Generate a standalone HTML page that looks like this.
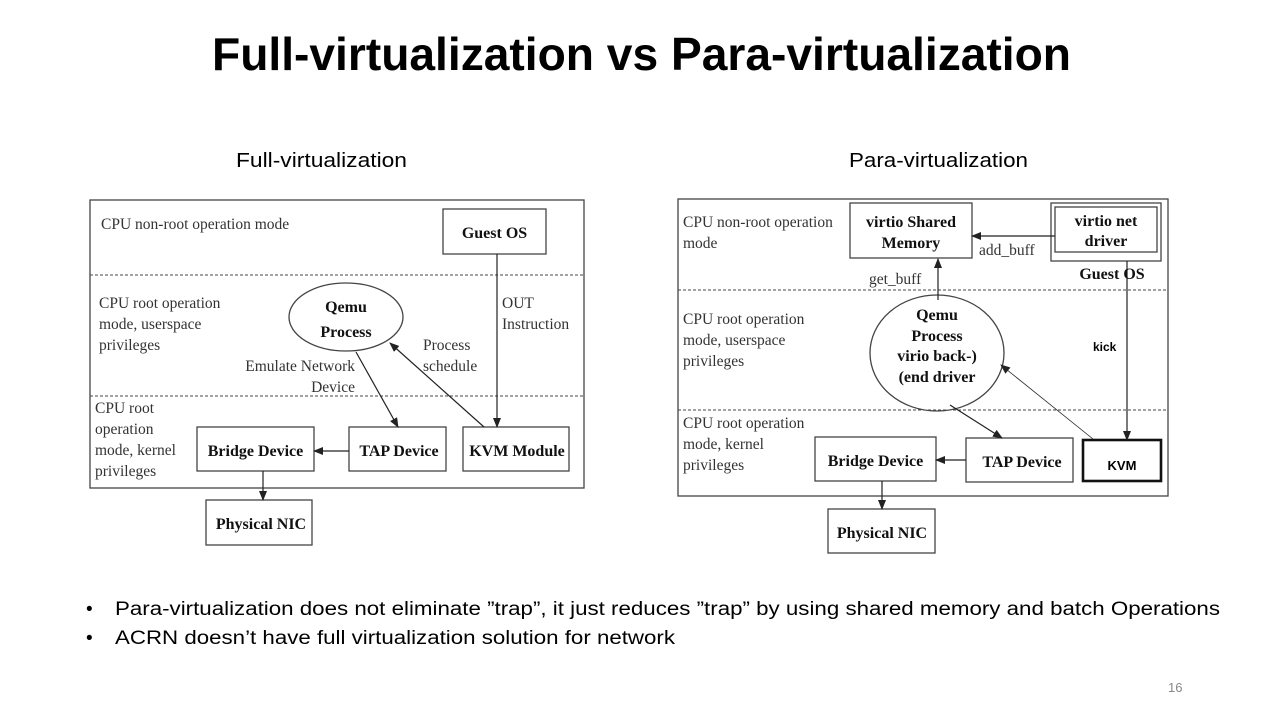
<!DOCTYPE html>
<html><head><meta charset="utf-8"><style>
html,body{margin:0;padding:0;background:#fff;width:1280px;height:720px;overflow:hidden}
svg{display:block}
.s{font-family:"Liberation Serif",serif;font-size:15.5px;fill:#333}
.b{font-family:"Liberation Serif",serif;font-size:16px;font-weight:bold;fill:#111}
.c{font-family:"Liberation Sans",sans-serif;fill:#000}
</style></head><body>
<svg width="1280" height="720" viewBox="0 0 1280 720" xmlns="http://www.w3.org/2000/svg">
<defs>
<marker id="a" markerWidth="10" markerHeight="8" refX="9" refY="4" orient="auto" markerUnits="userSpaceOnUse"><path d="M0,0 L10,4 L0,8 z" fill="#222"/></marker>
</defs>
<text class="c" x="212" y="70" font-size="46" font-weight="bold" textLength="859" lengthAdjust="spacingAndGlyphs">Full-virtualization vs Para-virtualization</text>
<text class="c" x="236" y="167" font-size="20" textLength="171" lengthAdjust="spacingAndGlyphs">Full-virtualization</text>
<text class="c" x="849" y="167" font-size="20" textLength="179" lengthAdjust="spacingAndGlyphs">Para-virtualization</text>

<!-- LEFT DIAGRAM -->
<g stroke="#444" fill="none" stroke-width="1.3">
<rect x="90" y="200" width="494" height="288"/>
<line x1="90" y1="275" x2="584" y2="275" stroke-dasharray="3,2" stroke-width="1"/>
<line x1="90" y1="396" x2="584" y2="396" stroke-dasharray="3,2" stroke-width="1"/>
<rect x="443" y="209" width="103" height="45"/>
<ellipse cx="346" cy="317" rx="57" ry="34"/>
<rect x="197" y="427" width="117" height="44"/>
<rect x="349" y="427" width="97" height="44"/>
<rect x="463" y="427" width="106" height="44"/>
<rect x="206" y="500" width="106" height="45"/>
</g>
<g stroke="#222" stroke-width="1.2" fill="none">
<line x1="497" y1="254" x2="497" y2="427" marker-end="url(#a)"/>
<line x1="356" y1="352" x2="398" y2="427" marker-end="url(#a)"/>
<line x1="484" y1="427" x2="390" y2="343" marker-end="url(#a)"/>
<line x1="349" y1="451" x2="314" y2="451" marker-end="url(#a)"/>
<line x1="263" y1="471" x2="263" y2="500" marker-end="url(#a)"/>
</g>
<text class="s" x="101" y="229">CPU non-root operation mode</text>
<text class="s" x="99" y="308">CPU root operation</text>
<text class="s" x="99" y="329">mode, userspace</text>
<text class="s" x="99" y="350">privileges</text>
<text class="s" x="355" y="371" text-anchor="end">Emulate Network</text>
<text class="s" x="355" y="392" text-anchor="end">Device</text>
<text class="s" x="423" y="350">Process</text>
<text class="s" x="423" y="371">schedule</text>
<text class="s" x="502" y="308">OUT</text>
<text class="s" x="502" y="329">Instruction</text>
<text class="s" x="95" y="413">CPU root</text>
<text class="s" x="95" y="434">operation</text>
<text class="s" x="95" y="455">mode, kernel</text>
<text class="s" x="95" y="476">privileges</text>
<text class="b" x="494.5" y="238" text-anchor="middle">Guest OS</text>
<text class="b" x="346" y="312" text-anchor="middle">Qemu</text>
<text class="b" x="346" y="337" text-anchor="middle">Process</text>
<text class="b" x="255.5" y="456" text-anchor="middle">Bridge Device</text>
<text class="b" x="399" y="456" text-anchor="middle">TAP Device</text>
<text class="b" x="517" y="456" text-anchor="middle">KVM Module</text>
<text class="b" x="261" y="529" text-anchor="middle">Physical NIC</text>

<!-- RIGHT DIAGRAM -->
<g stroke="#444" fill="none" stroke-width="1.3">
<rect x="678" y="199" width="490" height="297"/>
<line x1="678" y1="290" x2="1168" y2="290" stroke-dasharray="3,2" stroke-width="1"/>
<line x1="678" y1="410" x2="1168" y2="410" stroke-dasharray="3,2" stroke-width="1"/>
<rect x="850" y="203" width="122" height="55"/>
<rect x="1051" y="203" width="110" height="58"/>
<rect x="1055" y="207" width="102" height="45"/>
<ellipse cx="937" cy="353" rx="67" ry="58"/>
<rect x="815" y="437" width="121" height="44"/>
<rect x="966" y="438" width="107" height="44"/>
<rect x="828" y="509" width="107" height="44"/>
<rect x="1083" y="440" width="78" height="41" stroke="#111" stroke-width="2.6"/>
</g>
<g stroke="#222" stroke-width="1.2" fill="none">
<line x1="1055" y1="236" x2="972" y2="236" marker-end="url(#a)"/>
<line x1="938" y1="300" x2="938" y2="259" marker-end="url(#a)"/>
<line x1="1127" y1="261" x2="1127" y2="440" marker-end="url(#a)"/>
<line x1="950" y1="405" x2="1002" y2="438" marker-end="url(#a)"/>
<line x1="1093" y1="439" x2="1001" y2="365" stroke-width="0.8" marker-end="url(#a)"/>
<line x1="966" y1="460" x2="936" y2="460" marker-end="url(#a)"/>
<line x1="882" y1="481" x2="882" y2="509" marker-end="url(#a)"/>
</g>
<text class="s" x="683" y="227">CPU non-root operation</text>
<text class="s" x="683" y="248">mode</text>
<text class="s" x="979" y="255">add_buff</text>
<text class="s" x="869" y="284">get_buff</text>
<text class="s" x="683" y="324">CPU root operation</text>
<text class="s" x="683" y="345">mode, userspace</text>
<text class="s" x="683" y="366">privileges</text>
<text class="s" x="683" y="428">CPU root operation</text>
<text class="s" x="683" y="449">mode, kernel</text>
<text class="s" x="683" y="470">privileges</text>
<text class="b" x="911" y="227" text-anchor="middle">virtio Shared</text>
<text class="b" x="911" y="248" text-anchor="middle">Memory</text>
<text class="b" x="1106" y="226" text-anchor="middle">virtio net</text>
<text class="b" x="1106" y="246" text-anchor="middle">driver</text>
<text class="b" x="1112" y="279" text-anchor="middle">Guest OS</text>
<text class="b" x="937" y="320" text-anchor="middle">Qemu</text>
<text class="b" x="937" y="341" text-anchor="middle">Process</text>
<text class="b" x="937" y="361" text-anchor="middle">virio back-)</text>
<text class="b" x="937" y="382" text-anchor="middle">(end driver</text>
<text class="c" x="1093" y="351" font-size="12" font-weight="bold">kick</text>
<text class="b" x="875.5" y="466" text-anchor="middle">Bridge Device</text>
<text class="b" x="1022" y="467" text-anchor="middle">TAP Device</text>
<text class="c" x="1122" y="470" font-size="13" font-weight="bold" text-anchor="middle">KVM</text>
<text class="b" x="882" y="538" text-anchor="middle">Physical NIC</text>

<!-- bullets -->
<text class="c" x="86" y="615" font-size="19">•</text>
<text class="c" x="115" y="615" font-size="19" textLength="1105" lengthAdjust="spacingAndGlyphs">Para-virtualization does not eliminate ”trap”, it just reduces ”trap” by using shared memory and batch Operations</text>
<text class="c" x="86" y="644" font-size="19">•</text>
<text class="c" x="115" y="644" font-size="19" textLength="560" lengthAdjust="spacingAndGlyphs">ACRN doesn’t have full virtualization solution for network</text>
<text class="c" x="1168" y="692" font-size="13" fill="#888" style="fill:#888">16</text>
</svg>
</body></html>
